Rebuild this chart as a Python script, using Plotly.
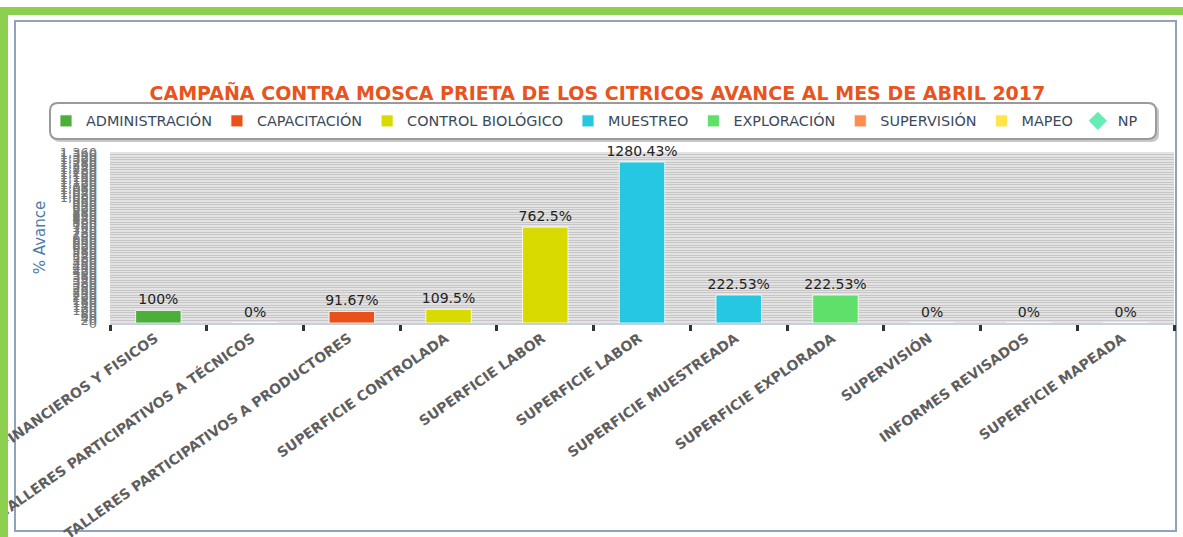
import plotly.graph_objects as go

# ---------------- data ----------------
categories = [
    "INFORMES FINANCIEROS Y FISICOS",
    "TALLERES PARTICIPATIVOS A TÉCNICOS",
    "TALLERES PARTICIPATIVOS A PRODUCTORES",
    "SUPERFICIE CONTROLADA",
    "SUPERFICIE LABOR",
    "SUPERFICIE LABOR\u200b",
    "SUPERFICIE MUESTREADA",
    "SUPERFICIE EXPLORADA",
    "SUPERVISIÓN",
    "INFORMES REVISADOS",
    "SUPERFICIE MAPEADA",
]
values = [100, 0, 91.67, 109.5, 762.5, 1280.43, 222.53, 222.53, 0, 0, 0]
value_labels = ["100%", "0%", "91.67%", "109.5%", "762.5%", "1280.43%",
                "222.53%", "222.53%", "0%", "0%", "0%"]
category_series = [
    "ADMINISTRACIÓN", "CAPACITACIÓN", "CAPACITACIÓN",
    "CONTROL BIOLÓGICO", "CONTROL BIOLÓGICO",
    "MUESTREO", "MUESTREO", "EXPLORACIÓN",
    "SUPERVISIÓN", "SUPERVISIÓN", "MAPEO",
]
bar_series = ["ADMINISTRACIÓN", "CAPACITACIÓN", "CONTROL BIOLÓGICO", "MUESTREO",
              "EXPLORACIÓN", "SUPERVISIÓN", "MAPEO"]
series_colors = ["#4DAF3A", "#E8521A", "#D9DB00", "#25C8E0",
                 "#5EE06A", "#FF8C4C", "#FFE44A"]
np_name = "NP"
np_color = "#66EDB5"

title_text = "CAMPAÑA CONTRA MOSCA PRIETA DE LOS CITRICOS AVANCE AL MES DE ABRIL 2017"
y_title = "% Avance"
y_max = 1360
y_step = 20

# ---------------- layout geometry helpers ----------------
W, H = 1183, 537
ML, MR, MT, MB = 110, 9, 152, 214
PW = W - ML - MR
PH = H - MT - MB


def fx(p):
    return (p - ML) / PW


def fy(p):
    return (H - MB - p) / PH


fig = go.Figure()

for name, color in zip(bar_series, series_colors):
    ys = [v if s == name else None for v, s in zip(values, category_series)]
    txt = [t if s == name else "" for t, s in zip(value_labels, category_series)]
    fig.add_trace(go.Bar(
        name=name, x=categories, y=ys, text=txt,
        textposition="outside", cliponaxis=False, constraintext="none",
        textfont=dict(size=14, color="#222222", family="DejaVu Sans"),
        marker=dict(color=color, line=dict(color="rgba(255,255,255,0.8)", width=1)),
        width=0.47,
    ))

fig.add_trace(go.Scatter(
    name=np_name, x=categories, y=[None] * len(categories), mode="markers",
    marker=dict(symbol="diamond", color=np_color, size=14),
))


def rounded_rect(x0, y0, x1, y1, r):
    rx = r / PW
    ry = r / PH
    X0, X1 = fx(x0), fx(x1)
    Y0, Y1 = fy(y0), fy(y1)  # Y0 top (larger), Y1 bottom
    return (f"M{X0+rx},{Y0} L{X1-rx},{Y0} Q{X1},{Y0} {X1},{Y0-ry} "
            f"L{X1},{Y1+ry} Q{X1},{Y1} {X1-rx},{Y1} L{X0+rx},{Y1} "
            f"Q{X0},{Y1} {X0},{Y1+ry} L{X0},{Y0-ry} Q{X0},{Y0} {X0+rx},{Y0} Z")


shapes = [
    # outer green frame
    dict(type="rect", xref="paper", yref="paper",
         x0=fx(4), x1=fx(1300), y0=fy(11), y1=fy(700),
         line=dict(color="#8DD04F", width=8), fillcolor="rgba(0,0,0,0)", layer="above"),
    # inner frame
    dict(type="rect", xref="paper", yref="paper",
         x0=fx(15), x1=fx(1176), y0=fy(21), y1=fy(531),
         line=dict(color="#8FA3BA", width=2), fillcolor="rgba(0,0,0,0)", layer="below"),
    # legend shadow
    dict(type="path", xref="paper", yref="paper", path=rounded_rect(52, 105, 1159, 142, 8),
         line=dict(color="rgba(0,0,0,0)", width=0), fillcolor="#C8C8C8", layer="below"),
    # legend box
    dict(type="path", xref="paper", yref="paper", path=rounded_rect(50, 103, 1156, 139, 8),
         line=dict(color="#9A9A9A", width=2), fillcolor="white", layer="below"),
]

fig.update_layout(
    width=W, height=H,
    margin=dict(l=ML, r=MR, t=MT, b=MB, autoexpand=False),
    paper_bgcolor="white",
    plot_bgcolor="#E3E3E3",
    barmode="overlay",
    font=dict(family="DejaVu Sans"),
    title=dict(text=title_text, xref="container", x=0.505, xanchor="center",
               yref="container", y=1 - 93 / H, yanchor="middle", automargin=False,
               font=dict(size=19, color="#E8531E", family="DejaVu Sans", weight="bold")),
    legend=dict(orientation="h", xref="paper", x=fx(46), xanchor="left",
                yref="paper", y=fy(121), yanchor="middle",
                font=dict(size=14.4, color="#3B4A5A"), bgcolor="rgba(0,0,0,0)",
                traceorder="normal", itemwidth=30),
    shapes=shapes,
    xaxis=dict(
        type="category", tickson="boundaries", tickangle=-35, automargin=False,
        range=[-0.5, len(categories) - 0.5],
        ticks="outside", ticklen=6, tickwidth=3, tickcolor="#333333",
        showline=True, linecolor="#C5D0DC", linewidth=2,
        showgrid=False, ticklabelshift=-3,
        tickfont=dict(size=14, color="#5E5E5E", family="DejaVu Sans", weight="bold"),
    ),
    yaxis=dict(
        range=[0, y_max], dtick=y_step, tick0=0, tickformat=",d", automargin=False,
        showgrid=True, gridcolor="#C6C6C6", gridwidth=1,
        zeroline=False, ticks="",
        ticklabelstandoff=12,
        tickfont=dict(size=13, color="#777777"),
        title=dict(text=y_title, font=dict(size=15, color="#4E7BAA"), standoff=10),
    ),
)

fig.write_html("out.html", config={"displayModeBar": False},
               post_script="document.body.style.margin='0';")
